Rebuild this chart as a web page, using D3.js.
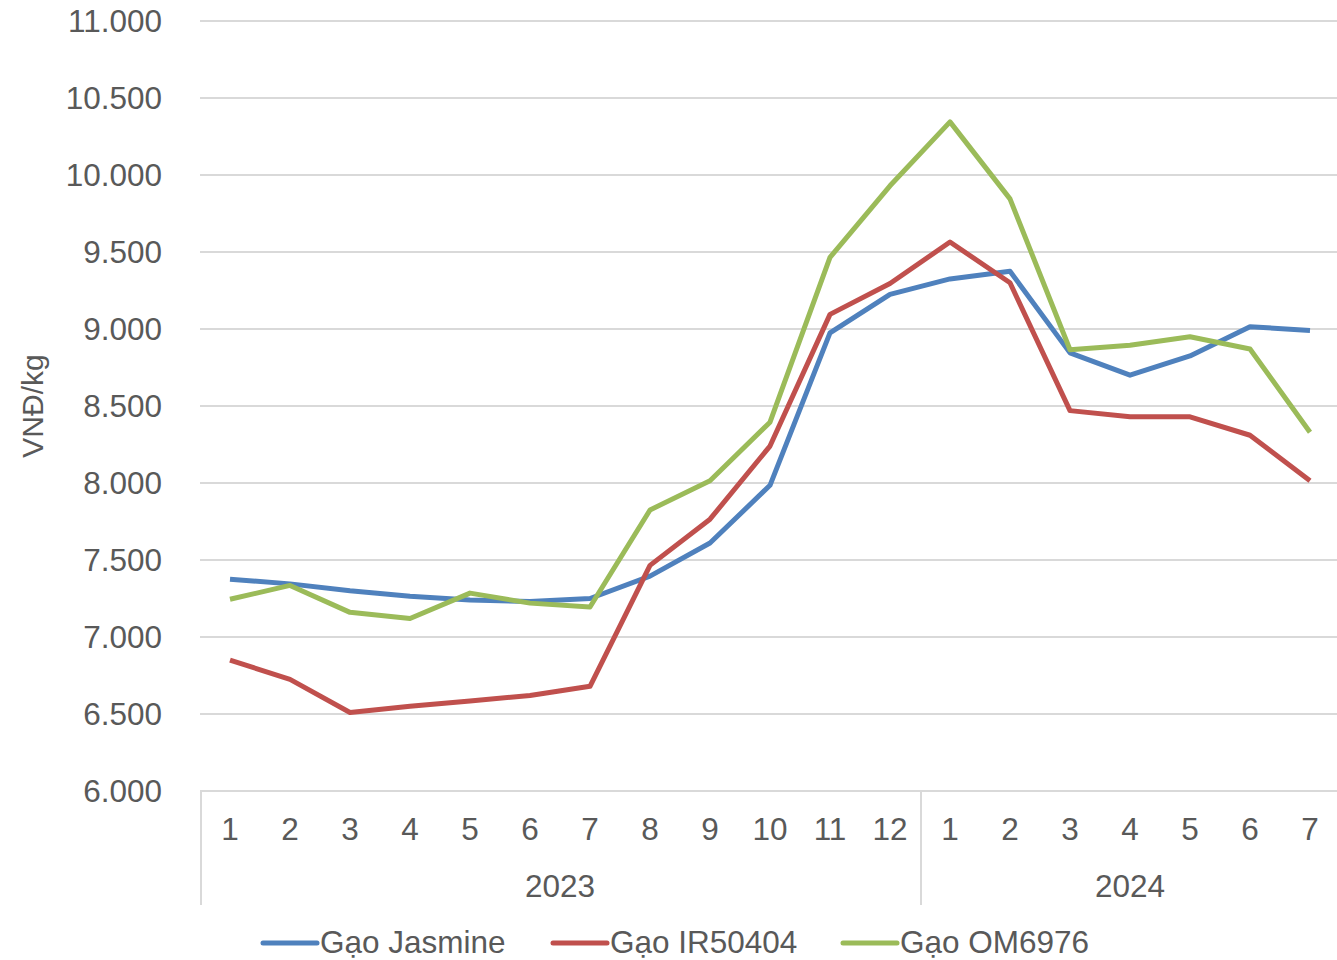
<!DOCTYPE html>
<html><head><meta charset="utf-8">
<script src="https://cdn.jsdelivr.net/npm/d3@7"></script>
<style>body{margin:0;background:#fff}svg{display:block}text{font-family:"Liberation Sans",Arial,sans-serif;fill:#595959}</style>
</head><body>
<svg id="c" width="1337" height="960"></svg>
<script>
const months = ["1","2","3","4","5","6","7","8","9","10","11","12","1","2","3","4","5","6","7"];
const years = [{label:"2023", n:12},{label:"2024", n:7}];
const yTicks = [6000,6500,7000,7500,8000,8500,9000,9500,10000,10500,11000];
const seriesNames = ["Gạo Jasmine","Gạo IR50404","Gạo OM6976"];
const jasmine = [7375,7345,7300,7265,7240,7230,7250,7395,7610,7985,8975,9225,9325,9375,8845,8700,8825,9015,8990];
const ir50404 = [6850,6725,6510,6550,6585,6620,6680,7465,7765,8240,9095,9295,9565,9300,8470,8430,8430,8310,8015];
const om6976 = [7245,7335,7160,7120,7285,7220,7195,7825,8015,8395,9465,9930,10345,9845,8865,8895,8950,8870,8330];
const colors = ["#4F81BD","#C0504D","#9BBB59"];

const svg = d3.select("#c");
const L=200, R=1340, T=21, B=791;
const x = d3.scaleBand().domain(d3.range(months.length)).range([L,R]);
const y = d3.scaleLinear().domain([6000,11000]).range([B,T]);
const fmt = v => d3.format(",")(v).replace(/,/g,".");
const FS = 31.5;

svg.append("g").selectAll("line").data(yTicks.slice(1)).join("line")
  .attr("x1",L).attr("x2",1337).attr("y1",d=>y(d)).attr("y2",d=>y(d))
  .attr("stroke","#d9d9d9").attr("stroke-width",2);
svg.append("g").selectAll("text").data(yTicks).join("text")
  .attr("x",162).attr("y",d=>y(d)).attr("dy","0.35em").attr("text-anchor","end")
  .attr("font-size",FS).text(fmt);
svg.append("text").attr("transform","translate(43,406) rotate(-90)")
  .attr("text-anchor","middle").attr("font-size",30).text("VNĐ/kg");

svg.append("line").attr("x1",L).attr("x2",1337).attr("y1",B).attr("y2",B).attr("stroke","#d9d9d9").attr("stroke-width",2);
let acc=0; const seps=[0];
years.forEach(yr=>{acc+=yr.n; seps.push(acc);});
svg.append("g").selectAll("line").data(seps.slice(0,-1)).join("line")
  .attr("x1",d=>x(d)+1).attr("x2",d=>x(d)+1).attr("y1",B).attr("y2",905)
  .attr("stroke","#d9d9d9").attr("stroke-width",2);
svg.append("g").selectAll("text").data(months).join("text")
  .attr("x",(d,i)=>x(i)+x.bandwidth()/2).attr("y",840).attr("text-anchor","middle")
  .attr("font-size",FS).text(d=>d);
svg.append("g").selectAll("text").data(years).join("text")
  .attr("x",(d,i)=>(x(seps[i])+x(seps[i+1]-1)+x.bandwidth())/2).attr("y",897)
  .attr("text-anchor","middle").attr("font-size",FS).text(d=>d.label);

const line = d3.line().x((d,i)=>x(i)+x.bandwidth()/2).y(d=>y(d));
[jasmine,ir50404,om6976].forEach((s,k)=>{
  svg.append("path").datum(s).attr("d",line).attr("fill","none")
    .attr("stroke",colors[k]).attr("stroke-width",5).attr("stroke-linejoin","round");
});

const legX=[263,553,843];
seriesNames.forEach((n,k)=>{
  svg.append("line").attr("x1",legX[k]).attr("x2",legX[k]+54).attr("y1",943).attr("y2",943)
    .attr("stroke",colors[k]).attr("stroke-width",5).attr("stroke-linecap","round");
  svg.append("text").attr("x",legX[k]+57).attr("y",953).attr("font-size",FS).text(n);
});
</script>
</body></html>
